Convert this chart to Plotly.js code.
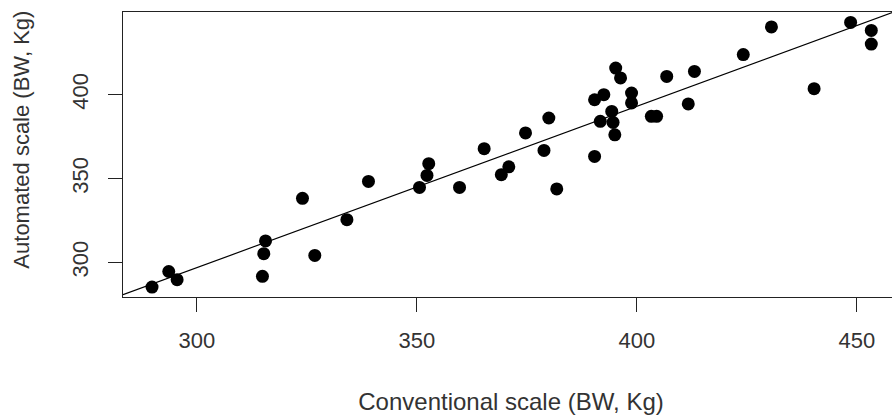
<!DOCTYPE html>
<html>
<head>
<meta charset="utf-8">
<script src="https://cdn.plot.ly/plotly-3.0.1.min.js"></script>
<style>
html, body { margin: 0; padding: 0; overflow: hidden; background: #fff; }
#chart { width: 900px; height: 415px; }
</style>
</head>
<body>
<div id="chart"></div>
<script>
// Conventional scale (BW, Kg)
var conventional = [289.8, 293.6, 295.5, 314.9, 315.2, 315.6, 324.0, 326.8, 334.1, 339.0,
  350.6, 352.3, 352.7, 359.7, 365.3, 369.2, 370.9, 374.7, 378.9, 380.0,
  381.8, 390.4, 390.4, 392.5, 391.7, 394.3, 394.6, 395.0, 395.2, 396.3,
  398.8, 398.8, 403.3, 404.5, 406.8, 411.7, 413.1, 424.2, 430.6, 440.3,
  448.6, 453.3, 453.3];
// Automated scale (BW, Kg)
var automated = [285.3, 294.6, 289.7, 291.7, 305.2, 312.8, 338.2, 304.2, 325.5, 348.3,
  344.7, 351.9, 358.9, 344.7, 367.8, 352.3, 357.0, 377.2, 366.8, 386.1,
  343.8, 363.2, 397.0, 400.0, 384.1, 390.0, 383.5, 376.1, 415.9, 410.0,
  401.0, 395.1, 387.1, 387.1, 410.9, 394.5, 413.9, 423.9, 440.4, 403.6,
  443.1, 438.3, 430.2];
// fitted line: automated = intercept + slope * conventional
var fitCoef = [8.3, 0.962];
var xRange = [283.2, 459.6];
var yRange = [279.4, 449.3];
var xTicks = [300, 350, 400, 450];
var yTicks = [300, 350, 400];
var xTitle = 'Conventional scale (BW, Kg)';
var yTitle = 'Automated scale (BW, Kg)';

var lineX = xRange.slice();
var lineY = lineX.map(function (v) { return fitCoef[0] + fitCoef[1] * v; });

var traces = [
  { x: conventional, y: automated, type: 'scatter', mode: 'markers',
    marker: { color: '#000000', size: 13, line: { width: 0 } },
    hoverinfo: 'x+y', showlegend: false },
  { x: lineX, y: lineY, type: 'scatter', mode: 'lines',
    line: { color: '#000000', width: 1.2 },
    hoverinfo: 'skip', showlegend: false }
];

var fam = 'Liberation Sans, Arial, sans-serif';
var tickFont = { family: fam, size: 22, color: '#333333' };
var xTitleFont = { family: fam, size: 24, color: '#333333' };
var yTitleFont = { family: fam, size: 22, color: '#333333' };

var layout = {
  width: 900, height: 415,
  margin: { l: 123, r: 1, t: 12, b: 118, pad: 0 },
  paper_bgcolor: '#ffffff', plot_bgcolor: '#ffffff',
  font: tickFont, showlegend: false,
  xaxis: {
    range: xRange, tickmode: 'array', tickvals: xTicks, ticktext: xTicks.map(String),
    ticklabelstandoff: 10,
    showgrid: false, zeroline: false,
    showline: true, linecolor: '#222222', linewidth: 1, mirror: true,
    ticks: 'outside', ticklen: 14, tickwidth: 1, tickcolor: '#222222',
    tickfont: tickFont,
    title: { text: xTitle, font: xTitleFont, standoff: 40.3 },
    automargin: false
  },
  yaxis: {
    range: yRange, tickmode: 'array', tickvals: yTicks, ticktext: yTicks.map(String),
    tickangle: -90, ticklabelstandoff: 11,
    showgrid: false, zeroline: false,
    showline: true, linecolor: '#222222', linewidth: 1, mirror: true,
    ticks: 'outside', ticklen: 14, tickwidth: 1, tickcolor: '#222222',
    tickfont: tickFont,
    automargin: false
  },
  annotations: [
    { text: yTitle, textangle: -90, font: yTitleFont, showarrow: false,
      xref: 'paper', yref: 'paper', x: -0.1311, y: 0.5531,
      xanchor: 'center', yanchor: 'middle' }
  ]
};

Plotly.newPlot('chart', traces, layout, { displayModeBar: false, staticPlot: true });
</script>
</body>
</html>
